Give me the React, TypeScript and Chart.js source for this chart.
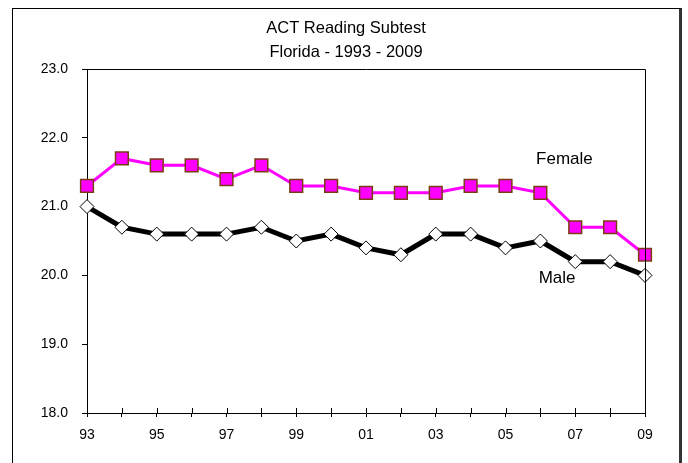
import React, { useEffect, useRef } from "react";
import { Chart, registerables } from "chart.js";

Chart.register(...registerables);

const years = ["93","94","95","96","97","98","99","00","01","02","03","04","05","06","07","08","09"];
const female = [21.3,21.7,21.6,21.6,21.4,21.6,21.3,21.3,21.2,21.2,21.2,21.3,21.3,21.2,20.7,20.7,20.3];
const male = [21.0,20.7,20.6,20.6,20.6,20.7,20.5,20.6,20.4,20.3,20.6,20.6,20.4,20.5,20.2,20.2,20.0];
const titleLines = ["ACT Reading Subtest", "Florida - 1993 - 2009"];
const seriesLabels = [
  { text: "Female", x: 13.69, y: 21.69 },
  { text: "Male", x: 13.48, y: 19.955 },
];

const FONT = "'Liberation Sans', Arial, sans-serif";

const extrasPlugin = {
  id: "extras",
  afterDraw(chart: any) {
    const ctx = chart.ctx;
    const xs = chart.scales.x;
    const ys = chart.scales.y;
    const a = chart.chartArea;
    ctx.save();
    ctx.strokeStyle = "#000";
    ctx.lineWidth = 1;
    // plot frame top & right
    ctx.beginPath();
    ctx.moveTo(Math.round(a.left) + 0.5, Math.round(a.top) + 0.5);
    ctx.lineTo(Math.round(a.right) + 0.5, Math.round(a.top) + 0.5);
    ctx.lineTo(Math.round(a.right) + 0.5, Math.round(a.bottom) + 0.5);
    ctx.stroke();
    // inward part of x ticks
    const b = a.bottom;
    for (let i = 0; i < years.length; i++) {
      const px = Math.round(xs.getPixelForValue(i)) + 0.5;
      ctx.beginPath();
      ctx.moveTo(px, b - 5);
      ctx.lineTo(px, b);
      ctx.stroke();
    }
    ctx.fillStyle = "#000";
    ctx.textAlign = "center";
    ctx.textBaseline = "middle";
    // title, centred over the outer frame
    ctx.font = `16.5px ${FONT}`;
    ctx.fillText(titleLines[0], 346, 28);
    ctx.fillText(titleLines[1], 346, 52.5);
    ctx.font = `17px ${FONT}`;
    for (const l of seriesLabels) {
      ctx.fillText(l.text, xs.getPixelForValue(l.x), ys.getPixelForValue(l.y));
    }
    ctx.restore();
  },
};

export default function App() {
  const ref = useRef<HTMLCanvasElement>(null);
  useEffect(() => {
    const chart = new Chart(ref.current!, {
      type: "line",
      data: {
        labels: years,
        datasets: [
          {
            label: "Female",
            data: female,
            borderColor: "#FF00FF",
            borderWidth: 3,
            backgroundColor: "#FF00FF",
            pointStyle: "rect",
            pointRadius: 9,
            pointBorderColor: "#7a3d10",
            pointBorderWidth: 1.5,
            pointBackgroundColor: "#FF00FF",
            tension: 0,
          },
          {
            label: "Male",
            data: male,
            borderColor: "#000",
            borderWidth: 5,
            backgroundColor: "#fff",
            pointStyle: "rectRot",
            pointRadius: 7,
            pointBorderColor: "#000",
            pointBorderWidth: 1,
            pointBackgroundColor: "#fff",
            tension: 0,
          },
        ],
      },
      options: {
        animation: false,
        responsive: false,
        layout: { padding: { left: 0, right: 43, top: 69, bottom: 0 } },
        plugins: {
          legend: { display: false },
          tooltip: { enabled: false },
          title: { display: false },
        },
        scales: {
          x: {
            offset: false,
            border: { display: true, color: "#000", width: 1 },
            grid: { display: true, drawOnChartArea: false, drawTicks: true, tickLength: 4, color: "#000" },
            ticks: {
              autoSkip: false,
              maxRotation: 0,
              color: "#000",
              padding: 10,
              font: { family: FONT, size: 14 },
              callback: (v: any, i: number) => (i % 2 === 0 ? years[i] : ""),
            },
            afterFit: (s: any) => { s.height = 50; },
          },
          y: {
            min: 18,
            max: 23,
            border: { display: true, color: "#000", width: 1 },
            grid: { display: true, drawOnChartArea: false, drawTicks: true, tickLength: 5, color: "#000" },
            ticks: {
              stepSize: 1,
              color: "#000",
              padding: 14,
              font: { family: FONT, size: 14 },
              callback: (v: any) => Number(v).toFixed(1),
            },
            afterFit: (s: any) => { s.width = 87; },
          },
        },
      },
      plugins: [extrasPlugin],
    });
    return () => chart.destroy();
  }, []);
  return (
    <div style={{ position: "absolute", left: 0, top: 0, width: 688, height: 463, background: "#fff", overflow: "hidden" }}>
      <div style={{ position: "absolute", left: 12, top: 8, width: 666, height: 470, borderLeft: "1px solid #000", borderTop: "1px solid #000", borderRight: "3px solid #333" }} />
      <canvas ref={ref} width={688} height={463} style={{ position: "absolute", left: 0, top: 0, display: "block" }} />
    </div>
  );
}
